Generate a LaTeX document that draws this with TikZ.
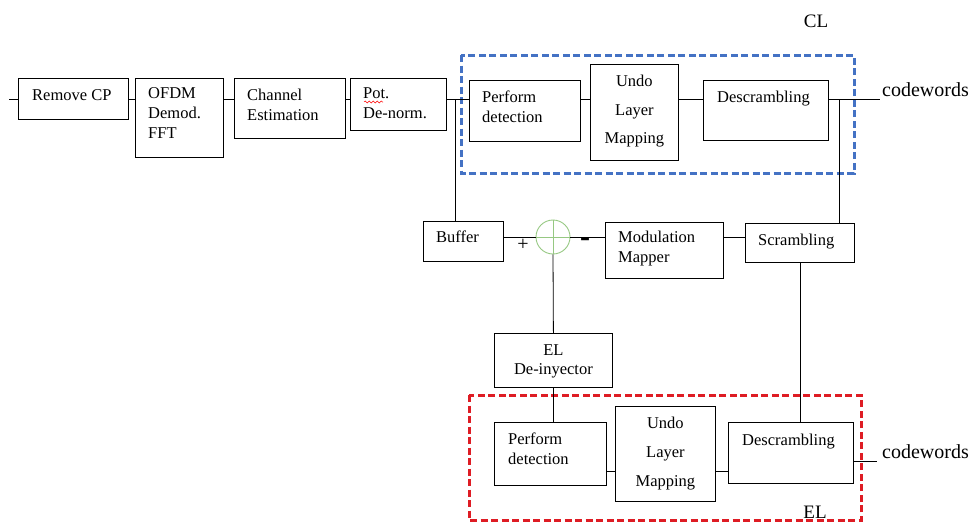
\documentclass[tikz,border=0pt]{standalone}
\usepackage{fontspec}
\setmainfont{Liberation Serif}
\usetikzlibrary{decorations.pathmorphing}
\definecolor{clblue}{RGB}{68,114,196}
\definecolor{elred}{RGB}{222,28,36}
\definecolor{sumgreen}{RGB}{150,200,130}
\tikzset{
  blk/.style={draw, line width=0.8pt, rectangle, inner sep=0pt, anchor=north west},
  txt/.style={inner sep=0pt, anchor=north west, align=left, font=\fontsize{16.5}{20}\selectfont},
  ctxt/.style={inner sep=0pt, anchor=north, align=center, font=\fontsize{16.5}{20}\selectfont},
  wire/.style={line width=0.8pt},
  layerbox/.style={line width=3pt, dash pattern=on 7pt off 3.5pt},
  tag/.style={inner sep=0pt, font=\fontsize{19}{19}\selectfont},
  outtxt/.style={inner sep=0pt, anchor=south west, font=\fontsize{20}{20}\selectfont}
}
\begin{document}
\begin{tikzpicture}[x=1pt,y=-1pt]
  \useasboundingbox (0,0) rectangle (973,522);

  % Layer frames
  \draw[layerbox, draw=clblue] (461,55) rectangle (854,173);
  \draw[layerbox, draw=elred] (469,395) rectangle (861,520);
  \node[tag] (cl) at (816,21) {CL};
  \node[tag] (el) at (815,512) {EL};

  % Receiver chain
  \node[blk, minimum width=110pt, minimum height=41pt] (rcp) at (18,78) {};
  \node[blk, minimum width=88pt, minimum height=79pt] (ofdm) at (135,78) {};
  \node[blk, minimum width=111pt, minimum height=60pt] (chan) at (234,78) {};
  \node[blk, minimum width=96pt, minimum height=52pt] (pot) at (350,78) {};
  \node[txt] (rcptxt) at ([shift={(14,11)}]rcp.north west) {Remove CP};
  \node[txt] (ofdmtxt) at ([shift={(13,9)}]ofdm.north west) {OFDM\\Demod.\\FFT};
  \node[txt] (chantxt) at ([shift={(13,11)}]chan.north west) {Channel\\Estimation};
  \node[txt] (pottxt) at ([shift={(13,9)}]pot.north west) {Pot.\\De-norm.};
  \draw[red, line width=0.5pt, decorate, decoration={snake, amplitude=1pt, segment length=4pt}]
    ([shift={(1,24)}]pot.north west -| pottxt.west) -- ++(19,0);

  % CL decoding
  \node[blk, minimum width=111pt, minimum height=61pt] (pd1) at (469,80) {};
  \node[blk, minimum width=88pt, minimum height=96pt] (undo1) at (590,64) {};
  \node[blk, minimum width=125pt, minimum height=60pt] (ds1) at (703,80) {};
  \node[txt] (pd1txt) at ([shift={(13,11)}]pd1.north west) {Perform\\detection};
  \node[ctxt, font=\fontsize{16.5}{28.5}\selectfont] (undo1txt) at ([shift={(0,11)}]undo1.north) {Undo\\Layer\\Mapping};
  \node[txt] (ds1txt) at ([shift={(14,11)}]ds1.north west) {Descrambling};

  % Cancellation stage
  \node[blk, minimum width=80pt, minimum height=40pt] (buf) at (423,221) {};
  \node[draw=sumgreen, line width=0.9pt, circle, minimum size=34pt, inner sep=0pt] (sum) at (553,237) {};
  \node[blk, minimum width=118pt, minimum height=56pt] (mod) at (605,222) {};
  \node[blk, minimum width=109pt, minimum height=39pt] (scr) at (745,223) {};
  \node[blk, minimum width=118pt, minimum height=54pt] (deinj) at (494,333) {};
  \node[txt] (buftxt) at ([shift={(13,10)}]buf.north west) {Buffer};
  \node[txt] (modtxt) at ([shift={(13,9)}]mod.north west) {Modulation\\Mapper};
  \node[txt] (scrtxt) at ([shift={(13,11)}]scr.north west) {Scrambling};
  \node[ctxt, font=\fontsize{16.5}{19}\selectfont] (deinjtxt) at ([shift={(0,11)}]deinj.north) {EL\\De-inyector};
  \node[inner sep=0pt, font=\fontsize{20}{20}\selectfont] (plus) at (523,245) {+};
  \node[inner sep=0pt, font=\fontsize{30}{30}\bfseries] (minus) at (585,242) {-};

  % EL decoding
  \node[blk, minimum width=112pt, minimum height=63pt] (pd2) at (494,422) {};
  \node[blk, minimum width=100pt, minimum height=95pt] (undo2) at (615,406) {};
  \node[blk, minimum width=125pt, minimum height=61pt] (ds2) at (728,422) {};
  \node[txt] (pd2txt) at ([shift={(14,11)}]pd2.north west) {Perform\\detection};
  \node[ctxt, font=\fontsize{16.5}{29}\selectfont] (undo2txt) at ([shift={(0,11)}]undo2.north) {Undo\\Layer\\Mapping};
  \node[txt] (ds2txt) at ([shift={(14,12)}]ds2.north west) {Descrambling};

  % Connection points
  \coordinate (rowA) at (9,99);
  \coordinate (rowB) at (0,471);
  \coordinate (tapA) at (455,99);
  \coordinate (tapB) at (839,99);
  \coordinate (cw1) at (880,99);
  \coordinate (cw2) at (877,461);
  \node[outtxt] (cw1txt) at ([shift={(2,-2)}]cw1) {codewords};
  \node[outtxt] (cw2txt) at ([shift={(5,-2)}]cw2) {codewords};

  % Draw connectors
  \draw[wire] (rowA) -- (rowA -| rcp.west);
  \draw[wire] (rowA -| rcp.east) -- (rowA -| ofdm.west);
  \draw[wire] (rowA -| ofdm.east) -- (rowA -| chan.west);
  \draw[wire] (rowA -| chan.east) -- (rowA -| pot.west);
  \draw[wire] (rowA -| pot.east) -- (rowA -| pd1.west);
  \draw[wire] (rowA -| pd1.east) -- (rowA -| undo1.west);
  \draw[wire] (rowA -| undo1.east) -- (rowA -| ds1.west);
  \draw[wire] (rowA -| ds1.east) -- (cw1);
  \draw[wire] (tapA) -- (tapA |- buf.north);
  \draw[wire] (tapB) -- (tapB |- scr.north);
  \draw[wire] (sum.west -| buf.east) -- (sum.west);
  \draw[wire] (sum.east) -- (sum.east -| mod.west);
  \draw[wire] (sum.east -| mod.east) -- (sum.east -| scr.west);
  \draw[sumgreen, line width=0.7pt] (sum.north) -- (sum.south) (sum.west) -- (sum.east);
  \draw[wire] (sum.south) -- (deinj.north);
  \draw[wire] (deinj.south) -- (deinj.south |- pd2.north);
  \draw[wire] (scr.south) -- (scr.south |- ds2.north);
  \draw[wire] (rowB -| pd2.east) -- (rowB -| undo2.west);
  \draw[wire] (rowB -| undo2.east) -- (rowB -| ds2.west);
  \draw[wire] (cw2 -| ds2.east) -- (cw2);
\end{tikzpicture}
\end{document}
